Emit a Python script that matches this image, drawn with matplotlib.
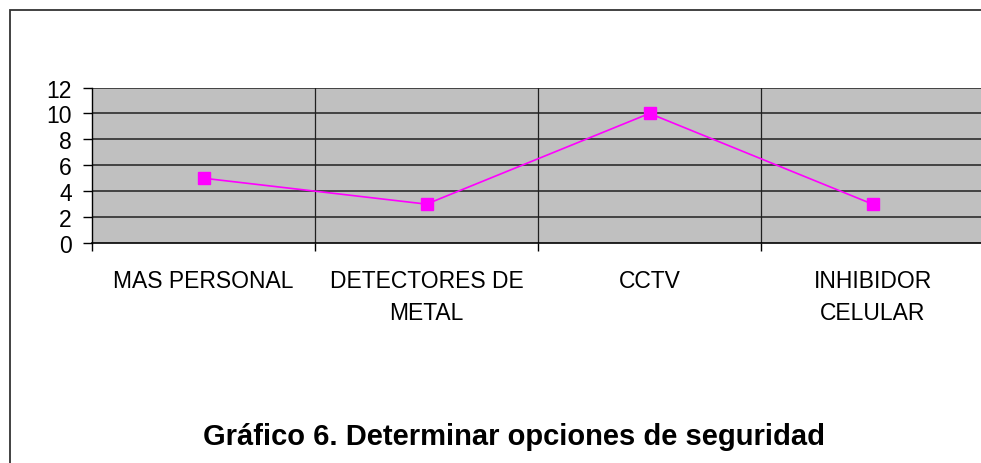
import matplotlib
matplotlib.use("Agg")
import matplotlib.pyplot as plt
from matplotlib.patches import Rectangle
from matplotlib.ticker import FixedLocator

categories = ["MAS PERSONAL", "DETECTORES DE\nMETAL", "CCTV", "INHIBIDOR\nCELULAR"]
values = [5, 3, 10, 3]
yticks = [0, 2, 4, 6, 8, 10, 12]
title = "Gráfico 6. Determinar opciones de seguridad"

plt.rcParams['font.family'] = ['Liberation Sans', 'DejaVu Sans']

W, H = 981, 464
fig = plt.figure(figsize=(W / 100, H / 100), dpi=100)
fig.patch.set_facecolor('white')

# outer border
fig.patches.append(Rectangle((10 / W, -0.05), 1.1, 1 - 11 / H + 0.05,
                             transform=fig.transFigure, fill=False,
                             edgecolor='#333333', linewidth=1.3))

ax = fig.add_axes([92 / W, 1 - 244 / H, (984 - 92) / W, (244 - 88.5) / H])
ax.set_facecolor('#C0C0C0')

x = list(range(len(categories)))
ax.plot(x, values, color='#FF00FF', linewidth=1.2, marker='s',
        markersize=8.5, markerfacecolor='#FF00FF', markeredgecolor='#FF00FF',
        zorder=5, clip_on=False)

ax.set_xlim(-0.5, len(categories) - 0.5)
ax.set_ylim(0, 12)
ax.set_yticks(yticks)
ax.set_yticklabels([str(v) for v in yticks])
ax.tick_params(axis='y', direction='out', length=6.5, width=1, color='#000000',
               pad=8, labelsize=16.5)

ax.set_xticks(x)
ax.set_xticklabels(categories, linespacing=1.5)
ax.tick_params(axis='x', which='major', length=0, pad=19, labelsize=16.5)
ax.xaxis.set_minor_locator(FixedLocator([-0.5, 0.5, 1.5, 2.5, 3.5]))
ax.tick_params(axis='x', which='minor', direction='out', length=6, width=1,
               color='#000000')
for lbl in ax.get_xticklabels():
    lbl.set_horizontalalignment('center')

for v in yticks[1:]:
    ax.axhline(v, color='#202020', linewidth=1.1, zorder=1)
for xv in [0.5, 1.5, 2.5]:
    ax.axvline(xv, color='#202020', linewidth=0.9, zorder=1)

for side in ['top', 'right']:
    ax.spines[side].set_visible(False)
ax.spines['left'].set_color('#000000')
ax.spines['bottom'].set_color('#000000')
ax.spines['left'].set_linewidth(1)
ax.spines['bottom'].set_linewidth(1.2)

fig.text(514 / W, 1 - 437 / H, title, ha='center', va='center',
         fontsize=21, fontweight='bold')

fig.savefig('out.png', dpi=100)
